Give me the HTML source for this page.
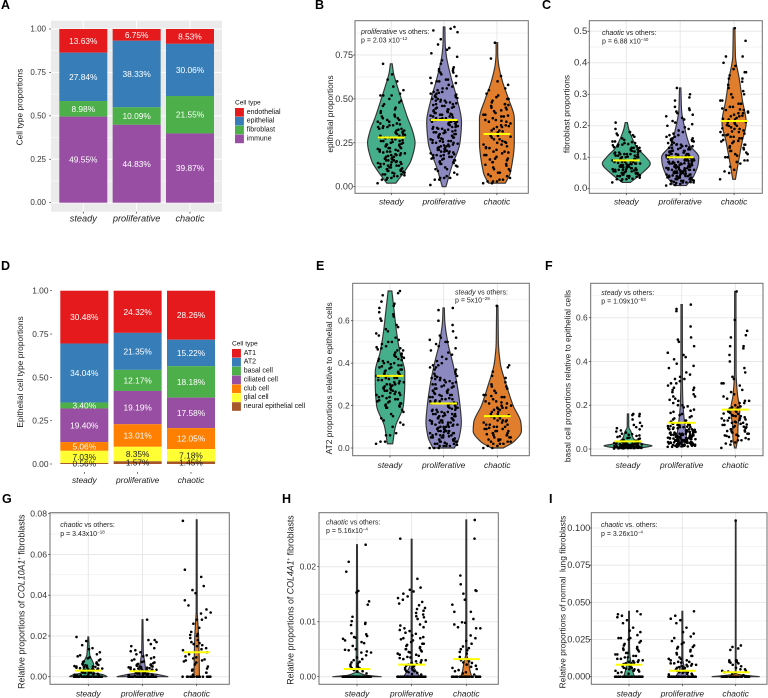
<!DOCTYPE html>
<html>
<head>
<meta charset="utf-8">
<title>Cell type proportion charts</title>
<style>
html,body{margin:0;padding:0;background:#fff;width:768px;height:698px;overflow:hidden}
svg{display:block}
text{font-family:"Liberation Sans",sans-serif}
.pl{font-size:12.5px;font-weight:bold;fill:#000}
.yt{font-size:8.4px;fill:#222;text-anchor:middle}
.an{font-size:7px;fill:#222}
.sup{font-size:4.5px}
</style>
</head>
<body>
<svg id="figure" xmlns="http://www.w3.org/2000/svg" width="768" height="698" viewBox="0 0 768 698">
<rect x="0" y="0" width="768" height="698" fill="#fff"/>
<g id="marks"></g>
<g>
<text class="pl" x="1" y="9">A</text>
<text class="pl" x="315" y="9">B</text>
<text class="pl" x="542" y="9">C</text>
<text class="pl" x="1" y="270">D</text>
<text class="pl" x="316" y="270">E</text>
<text class="pl" x="545" y="270">F</text>
<text class="pl" x="2" y="503">G</text>
<text class="pl" x="282" y="503">H</text>
<text class="pl" x="549" y="503">I</text>
</g>
<g>
<text class="yt" transform="translate(19.5,107) rotate(-90)" dominant-baseline="central">Cell type proportions</text>
<text class="yt" transform="translate(330,114) rotate(-90)" dominant-baseline="central">epithelial proportions</text>
<text class="yt" transform="translate(566.7,114) rotate(-90)" dominant-baseline="central">fibroblast proportions</text>
<text class="yt" transform="translate(20,372) rotate(-90)" dominant-baseline="central">Epithelial cell type proportions</text>
<text class="yt" transform="translate(329,378.3) rotate(-90)" dominant-baseline="central">AT2 proportions relative to epithelial cells</text>
<text class="yt" transform="translate(567.3,376) rotate(-90)" dominant-baseline="central">basal cell proportions relative to epithelial cells</text>
<text class="yt" style="font-size:8.8px" transform="translate(21.7,601.7) rotate(-90)" dominant-baseline="central">Relative proportions of <tspan font-style="italic">COL10A1</tspan><tspan class="sup" dy="-2.5">+</tspan><tspan dy="2.5"> fibroblasts</tspan></text>
<text class="yt" style="font-size:8.8px" transform="translate(290.7,600) rotate(-90)" dominant-baseline="central">Relative proportions of <tspan font-style="italic">COL4A1</tspan><tspan class="sup" dy="-2.5">+</tspan><tspan dy="2.5"> fibroblasts</tspan></text>
<text class="yt" transform="translate(562.3,602) rotate(-90)" dominant-baseline="central">Relative proportions of normal&#160; lung fibroblasts</text>
</g>
<g>
<g><text class="an" x="361" y="34"><tspan font-style="italic">proliferative</tspan> vs others:</text><text class="an" x="361" y="42.5">p = 2.03 x10<tspan class="sup" dy="-2.5">−12</tspan></text></g>
<g><text class="an" x="602" y="35"><tspan font-style="italic">chaotic</tspan> vs others:</text><text class="an" x="602" y="43.7">p = 6.88 x10<tspan class="sup" dy="-2.5">−40</tspan></text></g>
<g><text class="an" x="455" y="294.7"><tspan font-style="italic">steady</tspan> vs others:</text><text class="an" x="455" y="302.7">p = 5x10<tspan class="sup" dy="-2.5">−29</tspan></text></g>
<g><text class="an" x="601.3" y="295"><tspan font-style="italic">steady</tspan> vs others:</text><text class="an" x="601.3" y="303.7">p = 1.09x10<tspan class="sup" dy="-2.5">−53</tspan></text></g>
<g><text class="an" x="60.3" y="527"><tspan font-style="italic">chaotic</tspan> vs others:</text><text class="an" x="60.3" y="536">p = 3.43x10<tspan class="sup" dy="-2.5">−18</tspan></text></g>
<g><text class="an" x="326" y="524.4"><tspan font-style="italic">chaotic</tspan> vs others:</text><text class="an" x="326" y="533">p = 5.16x10<tspan class="sup" dy="-2.5">−4</tspan></text></g>
<g><text class="an" x="601" y="527"><tspan font-style="italic">chaotic</tspan> vs. others:</text><text class="an" x="601" y="536">p = 3.26x10<tspan class="sup" dy="-2.5">−4</tspan></text></g>
</g>
</svg>
<script>
const categories = ["steady", "proliferative", "chaotic"];

/* Panel A: stacked cell type percentages */
const aCellTypes = ["endothelial", "epithelial", "fibroblast", "immune"];
const aEndothelial = [13.63, 6.75, 8.53];
const aEpithelial = [27.84, 38.33, 30.06];
const aFibroblast = [8.98, 10.09, 21.55];
const aImmune = [49.55, 44.83, 39.87];
const proportionTicks = [0, 0.25, 0.5, 0.75, 1];
const proportionTickLabels = ["0.00", "0.25", "0.50", "0.75", "1.00"];

/* Panel D: stacked epithelial percentages */
const dCellTypes = ["AT1", "AT2", "basal cell", "ciliated cell", "club cell", "glial cell", "neural epithelial cell"];
const dAT1 = [30.48, 24.32, 28.26];
const dAT2 = [34.04, 21.35, 15.22];
const dBasal = [3.40, 12.17, 18.18];
const dCiliated = [19.40, 19.19, 17.58];
const dClub = [5.06, 13.01, 12.05];
const dGlial = [7.03, 8.35, 7.18];
const dNeural = [0.56, 1.57, 1.45];

/* Panel B */
const bTicks = [0, 0.25, 0.5, 0.75];
const bTickLabels = ["0.00", "0.25", "0.50", "0.75"];
const bMeans = [0.28, 0.38, 0.30];
const bSteady = [.02,.04,.04,.05,.05,.06,.06,.065,.07,.07,.07,.075,.08,.08,.085,.09,.09,.09,.095,.10,.10,.10,.105,.11,.11,.11,.115,.12,.12,.12,.125,.13,.13,.13,.135,.14,.14,.14,.145,.15,.15,.15,.155,.16,.16,.16,.165,.17,.17,.175,.18,.18,.18,.185,.19,.19,.195,.20,.20,.20,.205,.21,.21,.215,.22,.22,.22,.225,.23,.23,.235,.24,.24,.24,.245,.25,.25,.255,.26,.26,.26,.265,.27,.27,.275,.28,.28,.28,.285,.29,.29,.295,.30,.30,.305,.31,.31,.315,.32,.32,.325,.33,.33,.335,.34,.34,.345,.35,.35,.355,.36,.36,.37,.37,.38,.38,.39,.39,.40,.40,.41,.42,.43,.44,.45,.46,.47,.48,.49,.50,.52,.52,.52,.53,.55,.57,.60,.61,.64,.70];
const bProliferative = [.01,.04,.04,.05,.05,.05,.06,.07,.08,.09,.10,.10,.11,.115,.12,.13,.13,.135,.14,.14,.145,.15,.15,.155,.16,.16,.165,.17,.17,.175,.18,.18,.18,.185,.19,.19,.195,.20,.20,.20,.205,.21,.21,.21,.215,.22,.22,.225,.23,.23,.23,.235,.24,.24,.245,.25,.25,.25,.255,.26,.26,.26,.265,.27,.27,.275,.28,.28,.28,.285,.29,.29,.295,.30,.30,.30,.305,.31,.31,.31,.315,.32,.32,.325,.33,.33,.33,.335,.34,.34,.34,.345,.35,.35,.355,.36,.36,.36,.365,.37,.37,.37,.375,.38,.38,.385,.39,.39,.39,.395,.40,.40,.405,.41,.41,.41,.415,.42,.42,.425,.43,.43,.435,.44,.44,.445,.45,.45,.455,.46,.46,.465,.47,.47,.475,.48,.48,.485,.49,.49,.495,.50,.50,.505,.51,.51,.515,.52,.52,.525,.53,.53,.535,.54,.54,.55,.56,.56,.57,.58,.59,.59,.60,.60,.61,.61,.62,.63,.64,.65,.65,.66,.66,.67,.67,.68,.70,.72,.74,.76,.78,.79,.81,.84,.88,.89,.90,.91];
const bChaotic = [.02,.02,.03,.03,.03,.04,.04,.05,.06,.06,.07,.08,.08,.09,.10,.10,.11,.12,.13,.14,.14,.15,.16,.16,.17,.18,.18,.19,.20,.20,.21,.22,.22,.23,.24,.24,.25,.25,.26,.27,.27,.28,.29,.29,.30,.30,.31,.32,.32,.33,.34,.34,.35,.35,.36,.37,.37,.38,.38,.39,.40,.40,.41,.41,.42,.43,.44,.45,.45,.46,.47,.47,.48,.49,.50,.50,.51,.52,.53,.55,.56,.58,.60,.63,.73,.82,.125,.155,.195,.225,.255,.285,.315,.345,.375,.405,.435,.465];
const bSteadyDensity = [[.02,.17],[.05,.32],[.08,.47],[.15,.75],[.25,.9],[.32,.8],[.39,.62],[.5,.38],[.6,.17],[.65,.08],[.7,.035]];
const bProliferativeDensity = [[0,.07],[.11,.28],[.25,.6],[.37,.66],[.5,.49],[.625,.26],[.75,.08],[.82,.04],[.91,.03]];
const bChaoticDensity = [[.02,.32],[.08,.51],[.25,.66],[.39,.66],[.5,.44],[.6,.21],[.7,.06],[.76,.03],[.82,.03]];

/* Panel C */
const cTicks = [0, 0.1, 0.2, 0.3, 0.4, 0.5];
const cTickLabels = ["0.0", "0.1", "0.2", "0.3", "0.4", "0.5"];
const cMeans = [0.09, 0.10, 0.215];
const cSteady = [.02,.025,.03,.03,.03,.032,.035,.035,.038,.04,.04,.04,.04,.042,.045,.045,.045,.048,.05,.05,.05,.05,.05,.052,.055,.055,.055,.055,.058,.06,.06,.06,.06,.06,.062,.065,.065,.065,.065,.068,.07,.07,.07,.07,.07,.072,.075,.075,.075,.075,.078,.08,.08,.08,.08,.08,.082,.085,.085,.085,.085,.088,.09,.09,.09,.09,.09,.092,.095,.095,.095,.095,.098,.10,.10,.10,.10,.102,.105,.105,.105,.108,.11,.11,.11,.11,.112,.115,.115,.115,.118,.12,.12,.12,.122,.125,.125,.128,.13,.13,.13,.132,.135,.135,.138,.14,.14,.142,.145,.145,.148,.15,.15,.155,.16,.165,.17,.17,.175,.18,.18,.19,.21];
const cProliferative = [.01,.012,.015,.015,.018,.02,.02,.02,.021,.022,.025,.025,.025,.026,.028,.03,.03,.03,.03,.031,.032,.035,.035,.035,.035,.036,.038,.04,.04,.04,.04,.041,.042,.045,.045,.045,.045,.046,.048,.05,.05,.05,.05,.05,.051,.052,.055,.055,.055,.055,.056,.058,.06,.06,.06,.06,.06,.061,.062,.065,.065,.065,.065,.066,.068,.07,.07,.07,.07,.07,.071,.072,.075,.075,.075,.075,.076,.078,.08,.08,.08,.08,.08,.081,.082,.085,.085,.085,.085,.086,.088,.09,.09,.09,.09,.09,.091,.092,.095,.095,.095,.096,.098,.10,.10,.10,.10,.101,.102,.105,.105,.105,.106,.108,.11,.11,.11,.111,.112,.115,.115,.116,.118,.12,.12,.12,.121,.125,.125,.126,.13,.13,.13,.131,.135,.135,.136,.14,.14,.14,.141,.145,.146,.15,.15,.152,.155,.155,.158,.16,.16,.165,.165,.17,.17,.175,.18,.185,.19,.195,.20,.205,.21,.215,.22,.225,.23,.235,.24,.245,.25,.255,.26,.28,.29,.30,.32];
const cChaotic = [.03,.05,.055,.06,.07,.08,.085,.09,.09,.10,.10,.105,.11,.11,.115,.12,.12,.125,.13,.13,.135,.14,.14,.145,.15,.15,.155,.16,.16,.165,.165,.17,.17,.175,.18,.18,.185,.19,.19,.195,.20,.20,.205,.21,.21,.215,.22,.22,.225,.23,.23,.235,.24,.24,.245,.25,.25,.255,.26,.26,.27,.27,.28,.28,.29,.30,.30,.31,.32,.33,.34,.35,.35,.36,.37,.37,.38,.39,.40,.42,.42,.47,.51,.152,.172,.182,.192,.202,.212,.222,.232,.242,.252];
const cSteadyDensity = [[.02,.15],[.05,.59],[.08,.89],[.1,.73],[.13,.4],[.16,.22],[.19,.09],[.21,.04]];
const cProliferativeDensity = [[.01,.23],[.04,.5],[.08,.67],[.1,.69],[.14,.34],[.2,.15],[.25,.05],[.32,.025]];
const cChaoticDensity = [[.03,.05],[.08,.15],[.15,.3],[.21,.45],[.28,.31],[.35,.19],[.42,.05],[.51,.03]];

/* Panel E */
const eTicks = [0, 0.2, 0.4, 0.6];
const eTickLabels = ["0.0", "0.2", "0.4", "0.6"];
const eMeans = [0.34, 0.21, 0.15];
const eSteady = [.02,.03,.03,.06,.06,.07,.10,.11,.12,.13,.14,.15,.16,.17,.18,.19,.19,.195,.20,.20,.205,.21,.21,.215,.22,.22,.225,.23,.23,.235,.24,.24,.245,.25,.25,.255,.26,.26,.265,.27,.27,.27,.275,.28,.28,.285,.29,.29,.295,.30,.30,.30,.305,.31,.31,.315,.32,.32,.325,.33,.33,.33,.335,.34,.34,.34,.345,.35,.35,.35,.355,.36,.36,.365,.37,.37,.375,.38,.38,.385,.39,.39,.395,.40,.40,.405,.41,.41,.415,.42,.42,.425,.43,.43,.435,.44,.44,.445,.45,.46,.46,.465,.47,.47,.475,.48,.49,.50,.50,.51,.52,.53,.54,.55,.56,.57,.58,.60,.61,.62,.63,.64,.66,.67,.68,.69,.72,.73,.74];
const eProliferative = [.00,.00,.00,.01,.01,.01,.01,.015,.02,.02,.02,.02,.025,.03,.03,.03,.03,.035,.04,.04,.04,.04,.045,.05,.05,.05,.05,.055,.06,.06,.06,.06,.065,.07,.07,.07,.07,.075,.08,.08,.08,.08,.085,.09,.09,.09,.09,.095,.10,.10,.10,.10,.105,.11,.11,.11,.11,.115,.12,.12,.12,.12,.125,.13,.13,.13,.13,.135,.14,.14,.14,.14,.145,.15,.15,.15,.15,.155,.16,.16,.16,.16,.165,.17,.17,.17,.175,.18,.18,.18,.185,.19,.19,.19,.195,.20,.20,.20,.205,.21,.21,.21,.215,.22,.22,.22,.225,.23,.23,.23,.235,.24,.24,.245,.25,.25,.25,.255,.26,.26,.265,.27,.27,.27,.275,.28,.28,.285,.29,.29,.295,.30,.30,.305,.31,.31,.315,.32,.32,.325,.33,.33,.335,.34,.34,.35,.35,.36,.37,.37,.38,.38,.39,.39,.40,.41,.42,.43,.44,.45,.46,.47,.48,.49,.50,.50,.51,.52,.52,.53,.55,.58,.60,.65,.66];
const eChaotic = [.00,.00,.01,.01,.02,.02,.02,.03,.03,.03,.04,.04,.04,.05,.05,.05,.06,.06,.06,.07,.07,.07,.08,.08,.08,.09,.09,.09,.10,.10,.10,.11,.11,.11,.12,.12,.13,.13,.13,.14,.14,.15,.15,.15,.16,.16,.17,.17,.18,.18,.19,.19,.19,.20,.20,.21,.21,.22,.22,.23,.24,.24,.25,.25,.26,.27,.28,.29,.29,.30,.31,.33,.34,.36,.38,.39,.67,.035,.065,.095,.125,.155,.185,.215,.245];
const eSteadyDensity = [[.02,.1],[.1,.2],[.2,.5],[.3,.55],[.36,.55],[.45,.37],[.55,.24],[.65,.15],[.74,.07]];
const eProliferativeDensity = [[0,.4],[.05,.58],[.12,.66],[.2,.61],[.3,.5],[.4,.34],[.5,.15],[.6,.04],[.66,.025]];
const eChaoticDensity = [[0,.22],[.03,.62],[.08,.9],[.12,.88],[.2,.59],[.3,.33],[.4,.11],[.5,.04],[.67,.025]];

/* Panel F */
const fTicks = [0, 0.2, 0.4, 0.6];
const fTickLabels = ["0.0", "0.2", "0.4", "0.6"];
const fMeans = [0.035, 0.12, 0.18];
const fSteady = [.002,.003,.003,.004,.004,.004,.005,.005,.005,.005,.006,.006,.006,.007,.007,.007,.008,.008,.008,.008,.009,.009,.009,.010,.010,.010,.010,.011,.011,.011,.012,.012,.012,.013,.013,.013,.014,.014,.014,.015,.015,.015,.016,.016,.016,.017,.017,.018,.018,.018,.019,.019,.020,.020,.021,.021,.022,.022,.023,.024,.024,.025,.026,.027,.028,.029,.030,.031,.032,.034,.036,.038,.040,.042,.045,.048,.050,.052,.055,.058,.060,.062,.065,.068,.07,.075,.08,.085,.09,.095,.10,.105,.11,.12,.135,.15,.155,.16,.16];
const fProliferative = [.01,.01,.01,.012,.012,.012,.015,.015,.015,.015,.018,.018,.018,.02,.02,.02,.02,.02,.022,.022,.022,.025,.025,.025,.025,.025,.028,.028,.028,.03,.03,.03,.03,.03,.032,.032,.032,.035,.035,.035,.035,.038,.038,.038,.04,.04,.04,.04,.04,.042,.042,.042,.045,.045,.045,.045,.048,.048,.05,.05,.05,.05,.05,.052,.052,.055,.055,.055,.055,.058,.058,.06,.06,.06,.06,.062,.062,.065,.065,.065,.068,.068,.07,.07,.07,.07,.072,.075,.075,.075,.078,.078,.08,.08,.08,.082,.085,.085,.085,.088,.09,.09,.09,.092,.095,.095,.098,.10,.10,.10,.102,.105,.105,.108,.11,.11,.112,.115,.118,.12,.12,.125,.125,.13,.13,.135,.14,.145,.15,.155,.16,.165,.17,.175,.18,.19,.195,.20,.20,.21,.22,.225,.23,.24,.24,.25,.26,.27,.27,.28,.28,.29,.30,.30,.31,.32,.32,.33,.34,.35,.37,.38,.39,.41,.42,.43,.44,.47,.49,.50,.51,.56,.63,.64,.66];
const fChaotic = [.005,.02,.025,.03,.035,.04,.04,.045,.05,.055,.06,.06,.065,.07,.07,.075,.08,.08,.085,.09,.09,.095,.10,.10,.105,.11,.11,.115,.12,.12,.125,.13,.13,.135,.14,.14,.145,.15,.15,.155,.16,.165,.17,.17,.175,.18,.18,.185,.19,.19,.195,.20,.21,.21,.22,.22,.23,.24,.25,.26,.27,.29,.30,.30,.32,.33,.35,.37,.40,.43,.46,.47,.47,.51,.52,.54,.59,.72,.062,.082,.102,.112,.122,.132,.142,.152,.162,.172];
const fSteadyDensity = [[.002,.3],[.007,.6],[.015,.9],[.022,.6],[.03,.4],[.05,.19],[.08,.11],[.1,.03],[.16,.025]];
const fProliferativeDensity = [[.01,.06],[.05,.18],[.1,.13],[.2,.05],[.3,.03],[.66,.025]];
const fChaoticDensity = [[.005,.03],[.05,.09],[.1,.1],[.18,.17],[.25,.08],[.35,.03],[.72,.025]];

/* Panel G */
const gTicks = [0, 0.02, 0.04, 0.06, 0.08];
const gTickLabels = ["0.00", "0.02", "0.04", "0.06", "0.08"];
const gMeans = [0.003, 0.0027, 0.012];
const gSteady = [0,0,0,0,0,0,0,0,0,0,0,0,0,0,0,0,0,0,0,0,0,0,0,0,0,0,0,0,0,0,.0005,.0006,.0008,.001,.001,.0012,.0014,.0015,.0016,.0018,.002,.002,.0022,.0024,.0025,.0026,.0028,.003,.003,.0032,.0034,.0035,.0036,.0038,.004,.004,.0042,.0044,.0045,.0046,.0048,.005,.005,.0052,.0054,.0056,.0058,.006,.006,.0063,.0066,.007,.0072,.0075,.008,.0085,.009,.0095,.010,.0105,.011,.012,.0135,.014,.0155,.0175,.0195];
const gProliferative = [0,0,0,0,0,0,0,0,0,0,0,0,0,0,0,0,0,0,0,0,0,0,0,0,0,0,0,0,0,0,0,0,.0005,.0006,.0008,.001,.001,.0012,.0013,.0014,.0015,.0016,.0018,.002,.002,.0021,.0022,.0024,.0025,.0026,.0028,.003,.003,.0032,.0034,.0035,.0036,.0038,.004,.004,.0042,.0044,.0045,.0046,.0048,.005,.005,.0052,.0054,.0056,.0058,.006,.006,.0063,.0066,.007,.0072,.0075,.008,.0085,.009,.0095,.010,.0105,.011,.012,.0125,.013,.014,.015,.016,.017,.018,.018,.028];
const gChaotic = [0,0,0,0,0,0,0,0,0,0,0,0,0,0,0,0,.001,.002,.002,.003,.0035,.004,.005,.006,.007,.0075,.008,.008,.0085,.009,.0095,.010,.011,.012,.013,.0135,.014,.015,.0155,.016,.0165,.017,.018,.019,.020,.0205,.021,.022,.024,.026,.028,.028,.029,.031,.0315,.033,.035,.0375,.041,.0425,.0445,.049,.0525,.0765];
const gSteadyDensity = [[0,.7],[.001,.55],[.002,.2],[.004,.18],[.006,.2],[.008,.14],[.011,.05],[.0195,.015]];
const gProliferativeDensity = [[0,.95],[.001,.6],[.002,.12],[.005,.1],[.008,.07],[.012,.03],[.028,.015]];
const gChaoticDensity = [[0,.1],[.01,.09],[.02,.07],[.027,.04],[.032,.02],[.077,.015]];

/* Panel H */
const hTicks = [0, 0.01, 0.02];
const hTickLabels = ["0.00", "0.01", "0.02"];
const hMeans = [0.0014, 0.0022, 0.0032];
const hSteady = [0,0,0,0,0,0,0,0,0,0,0,0,0,0,0,0,0,0,0,0,0,0,0,0,0,0,0,0,0,0,0,0,0,0,0,0,.0006,.0009,.001,.0012,.0015,.0016,.0018,.0019,.002,.0022,.0024,.0026,.0027,.003,.0032,.0035,.0039,.0044,.0044,.0046,.0048,.0049,.005,.0056,.0061,.0063,.0066,.0069,.0071,.0072,.0074,.0077,.0079,.0094,.0096,.0098,.0101,.0109,.0131,.0137,.0153,.0156,.0191,.0209,.024];
const hProliferative = [0,0,0,0,0,0,0,0,0,0,0,0,0,0,0,0,0,0,0,0,0,0,0,0,0,0,0,0,0,0,0,0,0,0,0,0,.0004,.0005,.0007,.0008,.001,.001,.0012,.0013,.0015,.0016,.0018,.002,.002,.0022,.0023,.0025,.0026,.0028,.003,.003,.0032,.0034,.0035,.0036,.0038,.004,.004,.0042,.0044,.0045,.0046,.0048,.005,.005,.0052,.0054,.0056,.0058,.006,.006,.0063,.0066,.0068,.007,.007,.0072,.0075,.0078,.008,.0083,.0085,.0088,.009,.0093,.0095,.01,.0105,.0108,.011,.0113,.0116,.012,.0123,.0125,.013,.0133,.0136,.014,.0143,.0146,.0151,.0155,.0158,.0162,.0178,.0251];
const hChaotic = [0,0,0,0,0,0,0,0,0,0,0,0,0,0,0,0,0,0,0,0,0,0,0,0,0,0,0,0,.0004,.0006,.0008,.001,.0012,.0014,.0016,.0018,.002,.0022,.0025,.0026,.0028,.003,.0032,.0036,.0042,.0045,.0048,.005,.0052,.0055,.006,.0065,.007,.0075,.0088,.0088,.009,.0095,.0098,.0099,.0105,.0118,.0118,.0131,.014,.0151,.0156,.0157,.0168,.0184,.0251,.0285];
const hSteadyDensity = [[0,.9],[.0003,.3],[.001,.03],[.024,.015]];
const hProliferativeDensity = [[0,.3],[.0007,.2],[.002,.06],[.003,.02],[.025,.015]];
const hChaoticDensity = [[0,.2],[.001,.14],[.003,.07],[.004,.02],[.0285,.015]];

/* Panel I */
const iTicks = [0, 0.025, 0.05, 0.075, 0.1];
const iTickLabels = ["0.000", "0.025", "0.050", "0.075", "0.100"];
const iMeans = [0.008, 0.004, 0.003];
const iSteady = [0,0,0,0,0,0,0,0,0,0,0,0,0,0,0,0,0,0,0,0,0,0,0,0,0,0,0,0,0,0,.002,.0025,.003,.0035,.004,.004,.0045,.005,.005,.0055,.006,.006,.0065,.007,.0075,.008,.008,.0085,.009,.009,.0095,.01,.01,.0105,.011,.011,.012,.012,.013,.013,.014,.014,.015,.015,.016,.016,.017,.018,.018,.019,.019,.02,.021,.022,.023,.024,.025,.026,.026,.026,.028,.03,.031,.033,.036,.038,.04,.041,.042,.042,.044];
const iProliferative = [0,0,0,0,0,0,0,0,0,0,0,0,0,0,0,0,0,0,0,0,0,0,0,0,0,0,0,0,0,0,0,0,0,.001,.0015,.002,.002,.0025,.003,.003,.0035,.004,.004,.0045,.005,.005,.0055,.006,.006,.0065,.007,.007,.0075,.008,.008,.0085,.009,.009,.0095,.01,.01,.011,.011,.012,.012,.013,.014,.014,.015,.016,.017,.018,.019,.02,.02,.021,.022,.023,.024,.026,.027,.029,.03,.033,.036,.038,.039,.041,.044];
const iChaotic = [0,0,0,0,0,0,0,0,0,0,0,0,0,0,0,0,0,0,0,0,0,0,0,0,0,0,0,0,.001,.002,.0025,.003,.0035,.004,.004,.005,.005,.006,.007,.008,.009,.0095,.01,.01,.011,.011,.011,.018,.019,.020,.021,.105];
const iSteadyDensity = [[0,.2],[.005,.12],[.01,.07],[.015,.03],[.02,.02],[.044,.015]];
const iProliferativeDensity = [[0,.25],[.003,.15],[.008,.05],[.012,.02],[.044,.015]];
const iChaoticDensity = [[0,.9],[.001,.3],[.002,.03],[.004,.015],[.105,.012]];

const SVGNS = "http://www.w3.org/2000/svg";
const root = document.getElementById("marks");
const violinFills = ["#45AE8B", "#8C89C0", "#E07E2D"];
const set1 = ["#E41A1C", "#377EB8", "#4DAF4A", "#984EA3", "#FF7F00", "#FFFF33", "#A65628"];
const labelInk = ["#fff", "#fff", "#fff", "#fff", "#fff", "#222", "#222"];

function el(parent, tag, attrs, content) {
  const node = document.createElementNS(SVGNS, tag);
  for (const key in attrs) node.setAttribute(key, attrs[key]);
  if (content !== undefined) node.textContent = content;
  parent.appendChild(node);
  return node;
}

function linear(v0, v1, p0, p1) {
  return function (v) { return p0 + (v - v0) * (p1 - p0) / (v1 - v0); };
}

/* Monotone cubic outline through [x, y] points whose y is strictly monotonic. */
function smooth(points) {
  const n = points.length;
  const secant = [];
  for (let i = 0; i < n - 1; i++) {
    secant.push((points[i + 1][0] - points[i][0]) / (points[i + 1][1] - points[i][1]));
  }
  const tangent = points.map(function (p, i) {
    if (i === 0) return secant[0];
    if (i === n - 1) return secant[n - 2];
    const a = secant[i - 1], b = secant[i];
    return a * b <= 0 ? 0 : 2 * a * b / (a + b);
  });
  let d = "";
  for (let i = 0; i < n - 1; i++) {
    const h = (points[i + 1][1] - points[i][1]) / 3;
    d += "C" + (points[i][0] + tangent[i] * h).toFixed(2) + "," + (points[i][1] + h).toFixed(2) + " " +
      (points[i + 1][0] - tangent[i + 1] * h).toFixed(2) + "," + (points[i + 1][1] - h).toFixed(2) + " " +
      points[i + 1][0].toFixed(2) + "," + points[i + 1][1].toFixed(2);
  }
  return d;
}

function drawAxisText(g, cfg, ticks, labels, y, xCenter) {
  ticks.forEach(function (t, i) {
    const tick = el(g, "line", { x1: cfg.x0 - 1.8, x2: cfg.x0, y1: y(t), y2: y(t), stroke: "#333", "stroke-width": 0.7 });
    
    
    const label = el(g, "text", { x: cfg.x0 - cfg.labelGap, y: y(t), "text-anchor": "end", "dominant-baseline": "central", "font-size": cfg.tickSize, fill: "#333" }, labels[i]);
    
    
  });
  categories.forEach(function (c, i) {
    const tick = el(g, "line", { x1: xCenter(i), x2: xCenter(i), y1: cfg.y1, y2: cfg.y1 + 1.8, stroke: "#333", "stroke-width": 0.7 });
    
    
    const label = el(g, "text", { x: xCenter(i), y: cfg.xLabelY, "text-anchor": "middle", "dominant-baseline": "central", "font-size": cfg.xSize, "font-style": "italic", fill: "#222" }, c);
    
    
  });
}

function drawGrid(g, cfg, ticks, y, xCenter, color) {
  const step = ticks[1] - ticks[0];
  for (let v = ticks[0] - step / 2; y(v) > cfg.y0; v += step / 2) {
    const isMajor = ticks.some(function (t) { return Math.abs(t - v) < step / 10; });
    if (y(v) > cfg.y1) continue;
    const line = el(g, "line", { x1: cfg.x0, x2: cfg.x1, y1: y(v), y2: y(v), stroke: color, "stroke-width": isMajor ? 1 : 0.5 });
    
    
  }
  categories.forEach(function (c, i) {
    const line = el(g, "line", { x1: xCenter(i), x2: xCenter(i), y1: cfg.y0, y2: cfg.y1, stroke: color, "stroke-width": 1 });
    
    
  });
}

function drawStack(name, cfg, series, names) {
  const g = el(root, "g", {});
  
  
  const y = linear(0, 1, cfg.yZero, cfg.yOne);
  const xCenter = linear(0, 1, cfg.cx, cfg.cx + cfg.step);
  if (cfg.panelFill) {
    const bg = el(g, "rect", { x: cfg.x0, y: cfg.y0, width: cfg.x1 - cfg.x0, height: cfg.y1 - cfg.y0, fill: cfg.panelFill });
    
    
    drawGrid(g, cfg, proportionTicks, y, xCenter, "#fff");
  }
  categories.forEach(function (c, i) {
    let total = 0;
    series.forEach(function (s) { total += s[i]; });
    let cum = total;
    series.forEach(function (s, k) {
      const top = y(cum / total);
      const bottom = y((cum - s[i]) / total);
      const bar = el(g, "rect", { x: xCenter(i) - 24, y: top, width: 48, height: bottom - top, fill: set1[k] });
      
      
      cum -= s[i];
    });
    cum = total;
    series.forEach(function (s, k) {
      const mid = y((cum - s[i] / 2) / total);
      const label = el(g, "text", { x: xCenter(i), y: mid, "text-anchor": "middle", "dominant-baseline": "central", "font-size": 8.35, fill: labelInk[k] }, s[i].toFixed(2) + "%");
      
      
      cum -= s[i];
    });
  });
  drawAxisText(g, cfg, proportionTicks, proportionTickLabels, y, xCenter);
  const legend = el(g, "g", {});
  
  
  const title = el(legend, "text", { x: cfg.lx, y: cfg.ly - 5.2, "dominant-baseline": "central", "font-size": 6.6, fill: "#111" }, "Cell type");
  
  
  names.forEach(function (n, k) {
    const key = el(legend, "rect", { x: cfg.lx, y: cfg.ly + k * 8.87, width: 8.9, height: 8.6, fill: set1[k] });
    
    
    const text = el(legend, "text", { x: cfg.lx + 11.7, y: cfg.ly + k * 8.87 + 4.3, "dominant-baseline": "central", "font-size": 7, fill: "#111" }, n);
    
    
  });
}

function drawViolinPanel(name, cfg, ticks, tickLabels, groups, densities, means) {
  const g = el(root, "g", {});
  
  
  const y = linear(cfg.vLow, cfg.vHigh, cfg.pLow, cfg.pHigh);
  const xCenter = linear(0, 1, cfg.cx, cfg.cx + cfg.step);
  drawGrid(g, cfg, ticks, y, xCenter, "#E8E8E8");
  categories.forEach(function (c, i) {
    const density = densities[i];
    const right = density.map(function (d) { return [xCenter(i) + d[1] * cfg.step / 2, y(d[0])]; });
    const left = density.map(function (d) { return [xCenter(i) - d[1] * cfg.step / 2, y(d[0])]; }).reverse();
    const shape = "M" + right[0][0] + "," + right[0][1] + smooth(right) + "L" + left[0][0] + "," + left[0][1] + smooth(left) + "Z";
    const violin = el(g, "path", { d: shape, fill: violinFills[i], stroke: "#333", "stroke-width": 1.15 });
    
    
    groups[i].forEach(function (v, n) {
      const spread = (((n * n * 0.7548776662 + n * 0.5698402909) % 1) - 0.5) * 2 * 0.26 * cfg.step;
      const dot = el(g, "circle", { cx: xCenter(i) + spread, cy: y(v), r: 1.3, fill: "#000" });
      
      
    });
    const mean = el(g, "line", { x1: xCenter(i) - 13.4, x2: xCenter(i) + 13.4, y1: y(means[i]), y2: y(means[i]), stroke: "#FFFF00", "stroke-width": 2 });
    
    
  });
  const frame = el(g, "rect", { x: cfg.x0, y: cfg.y0, width: cfg.x1 - cfg.x0, height: cfg.y1 - cfg.y0, fill: "none", stroke: "#6E6E6E", "stroke-width": 1 });
  
  
  drawAxisText(g, cfg, ticks, tickLabels, y, xCenter);
}

drawStack("stacked-bar-chart-a",
  { x0: 51, x1: 222, y0: 20.7, y1: 211.7, yZero: 202.7, yOne: 29, cx: 83.3, step: 53.35, panelFill: "#EBEBEB", tickSize: 8, labelGap: 5, xSize: 9.2, xLabelY: 218.5, lx: 235, ly: 108 },
  [aEndothelial, aEpithelial, aFibroblast, aImmune], aCellTypes);

drawStack("stacked-bar-chart-d",
  { x0: 52, x1: 222, y0: 290, y1: 472, yZero: 464, yOne: 290.7, cx: 84.3, step: 53.35, panelFill: null, tickSize: 8.4, labelGap: 3.5, xSize: 8.4, xLabelY: 480, lx: 232, ly: 349 },
  [dAT1, dAT2, dBasal, dCiliated, dClub, dGlial, dNeural], dCellTypes);

drawViolinPanel("violin-chart-b",
  { x0: 355, x1: 528.3, y0: 20.7, y1: 193.3, vLow: 0, vHigh: 0.75, pLow: 186.7, pHigh: 55, cx: 391.3, step: 52.8, tickSize: 9.1, labelGap: 2, xSize: 8.4, xLabelY: 201.3 },
  bTicks, bTickLabels, [bSteady, bProliferative, bChaotic], [bSteadyDensity, bProliferativeDensity, bChaoticDensity], bMeans);

drawViolinPanel("violin-chart-c",
  { x0: 589.3, x1: 762.3, y0: 20.7, y1: 193.3, vLow: 0, vHigh: 0.5, pLow: 188.7, pHigh: 31.3, cx: 626.3, step: 53.9, tickSize: 9.6, labelGap: 2, xSize: 8.4, xLabelY: 201.3 },
  cTicks, cTickLabels, [cSteady, cProliferative, cChaotic], [cSteadyDensity, cProliferativeDensity, cChaoticDensity], cMeans);

drawViolinPanel("violin-chart-e",
  { x0: 352.7, x1: 529.3, y0: 283.3, y1: 455.7, vLow: 0, vHigh: 0.6, pLow: 448, pHigh: 320.7, cx: 390, step: 53.65, tickSize: 8.4, labelGap: 3, xSize: 8.4, xLabelY: 465 },
  eTicks, eTickLabels, [eSteady, eProliferative, eChaotic], [eSteadyDensity, eProliferativeDensity, eChaoticDensity], eMeans);

drawViolinPanel("violin-chart-f",
  { x0: 590.7, x1: 763, y0: 283.3, y1: 455.7, vLow: 0, vHigh: 0.6, pLow: 449, pHigh: 317.7, cx: 628, step: 53.65, tickSize: 8.4, labelGap: 3, xSize: 8.4, xLabelY: 465 },
  fTicks, fTickLabels, [fSteady, fProliferative, fChaotic], [fSteadyDensity, fProliferativeDensity, fChaoticDensity], fMeans);

drawViolinPanel("violin-chart-g",
  { x0: 50, x1: 229.3, y0: 512.7, y1: 684.3, vLow: 0, vHigh: 0.08, pLow: 676.7, pHigh: 513.7, cx: 88.3, step: 54.2, tickSize: 8.6, labelGap: 3, xSize: 8.4, xLabelY: 693.7 },
  gTicks, gTickLabels, [gSteady, gProliferative, gChaotic], [gSteadyDensity, gProliferativeDensity, gChaoticDensity], gMeans);

drawViolinPanel("violin-chart-h",
  { x0: 319, x1: 498.3, y0: 512.7, y1: 684.3, vLow: 0, vHigh: 0.02, pLow: 676.7, pHigh: 566.7, cx: 357, step: 54.65, tickSize: 8.4, labelGap: 3, xSize: 8.4, xLabelY: 693.7 },
  hTicks, hTickLabels, [hSteady, hProliferative, hChaotic], [hSteadyDensity, hProliferativeDensity, hChaoticDensity], hMeans);

drawViolinPanel("violin-chart-i",
  { x0: 591.3, x1: 767, y0: 512.7, y1: 684.3, vLow: 0, vHigh: 0.1, pLow: 676.7, pHigh: 528, cx: 629, step: 53.35, tickSize: 9.2, labelGap: 1, xSize: 8.4, xLabelY: 693.7 },
  iTicks, iTickLabels, [iSteady, iProliferative, iChaotic], [iSteadyDensity, iProliferativeDensity, iChaoticDensity], iMeans);
</script>
</body>
</html>
